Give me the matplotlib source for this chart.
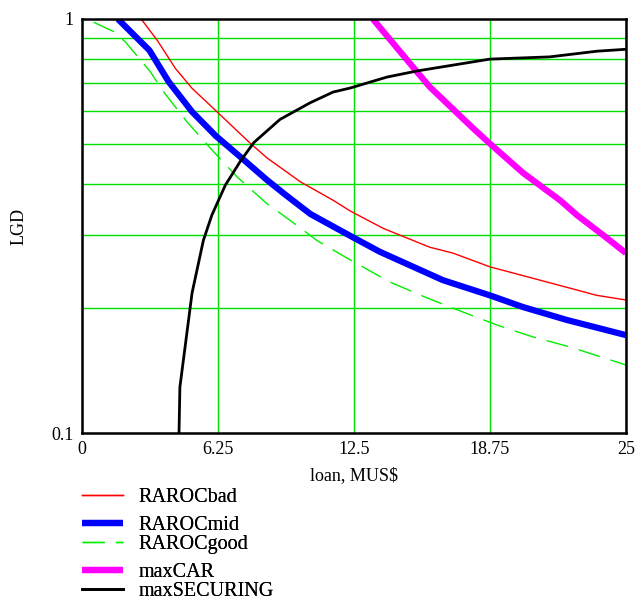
import matplotlib
matplotlib.use("Agg")
import matplotlib.pyplot as plt
from matplotlib.ticker import FixedLocator, NullFormatter

plt.rcParams['font.family'] = ['Liberation Serif', 'DejaVu Serif']

# ---------------------------
# data (loan in MUS$, LGD)
# ---------------------------
bad_x = [2.72, 3.48, 4.29, 5.06, 6.16, 7.7, 8.5, 10.05, 11.54, 12.32, 13.85, 15.99, 17.05, 18.75, 21.05, 23.67, 25.0]
bad_y = [1.0, 0.885, 0.76, 0.68, 0.60, 0.503, 0.462, 0.404, 0.365, 0.344, 0.312, 0.281, 0.272, 0.252, 0.234, 0.215, 0.2096]

mid_x = [1.65, 3.1, 3.98, 5.06, 6.15, 7.35, 8.49, 9.3, 10.5, 12.4, 13.69, 16.59, 18.75, 20.27, 22.29, 25.0]
mid_y = [1.0, 0.84, 0.706, 0.597, 0.522, 0.461, 0.409, 0.378, 0.338, 0.298, 0.274, 0.234, 0.215, 0.2015, 0.1875, 0.1724]

good_x = [0.54, 1.46, 1.99, 2.76, 3.14, 3.75, 4.82, 5.97, 7.12, 8.45, 9.75, 10.79, 12.32, 14.16, 15.86, 17.51, 19.07, 20.73, 22.43, 25.0]
good_y = [0.982, 0.932, 0.881, 0.788, 0.746, 0.667, 0.565, 0.483, 0.416, 0.36, 0.321, 0.292, 0.262, 0.2315, 0.212, 0.196, 0.1824, 0.1706, 0.1614, 0.146]

car_x = [13.37, 15.4, 15.99, 17.97, 18.75, 20.27, 21.97, 22.75, 23.94, 25.0]
car_y = [1.0, 0.745, 0.685, 0.545, 0.5, 0.425, 0.365, 0.336, 0.301, 0.272]

sec_x = [4.46, 4.5, 5.06, 5.58, 5.97, 6.59, 7.3, 7.9, 9.1, 10.5, 11.54, 12.32, 14.02, 15.4, 18.75, 21.5, 23.67, 25.0]
sec_y = [0.1, 0.129, 0.218, 0.292, 0.336, 0.397, 0.455, 0.503, 0.572, 0.628, 0.666, 0.681, 0.724, 0.749, 0.8, 0.81, 0.836, 0.845]

x_ticks = [0, 6.25, 12.5, 18.75, 25]
x_labels = ["0", "6.25", "12.5", "18.75", "25"]
y_minor = [0.2, 0.3, 0.4, 0.5, 0.6, 0.7, 0.8, 0.9]

GRID = '#00e000'

fig = plt.figure(figsize=(6.38, 6.01), dpi=100)
ax = fig.add_axes([0.1285, 0.2795, 0.8525, 0.6889])

ax.set_yscale('log')
ax.set_xlim(0, 25)
ax.set_ylim(0.1, 1)

ax.set_xticks(x_ticks)
ax.set_xticklabels(x_labels)
ax.yaxis.set_major_locator(FixedLocator([0.1, 1]))
ax.yaxis.set_minor_locator(FixedLocator(y_minor))
ax.yaxis.set_minor_formatter(NullFormatter())
ax.set_yticklabels(["0.1", "1"])
ax.tick_params(which='both', length=0, labelsize=13, pad=6)

ax.grid(True, axis='x', which='major', color=GRID, lw=1)
ax.grid(True, axis='y', which='minor', color=GRID, lw=1)
ax.axvline(25, color=GRID, lw=1)

l_bad, = ax.plot(bad_x, bad_y, color='red', lw=1, label='RAROCbad')
l_mid, = ax.plot(mid_x, mid_y, color='blue', lw=4.5, label='RAROCmid', solid_capstyle='butt')
l_good, = ax.plot(good_x, good_y, color='#00ee00', lw=1, dashes=(16, 8), label='RAROCgood')
l_car, = ax.plot(car_x, car_y, color='magenta', lw=4.5, label='maxCAR', solid_capstyle='butt')
l_sec, = ax.plot(sec_x, sec_y, color='black', lw=2, label='maxSECURING')

for s in ax.spines.values():
    s.set_linewidth(1.8)
    s.set_color('black')

ax.set_xlabel("loan, MUS$", fontsize=13, labelpad=6)
ax.set_ylabel("LGD", fontsize=13, labelpad=17)

# legend below the plot, one entry per row at the original spacing
leg_kw = dict(frameon=False, fontsize=14.5, handlelength=2.05, handletextpad=0.75,
              borderpad=0, borderaxespad=0, loc='center left')
rows_y = [497, 525, 544, 572, 591]   # pixel rows of the legend entries
for h, py in zip([l_bad, l_mid, l_good, l_car, l_sec], rows_y):
    fig.add_artist(fig.legend(handles=[h], bbox_to_anchor=(0.1285, 1 - py / 601), **leg_kw))

fig.savefig("out.png", dpi=100)
